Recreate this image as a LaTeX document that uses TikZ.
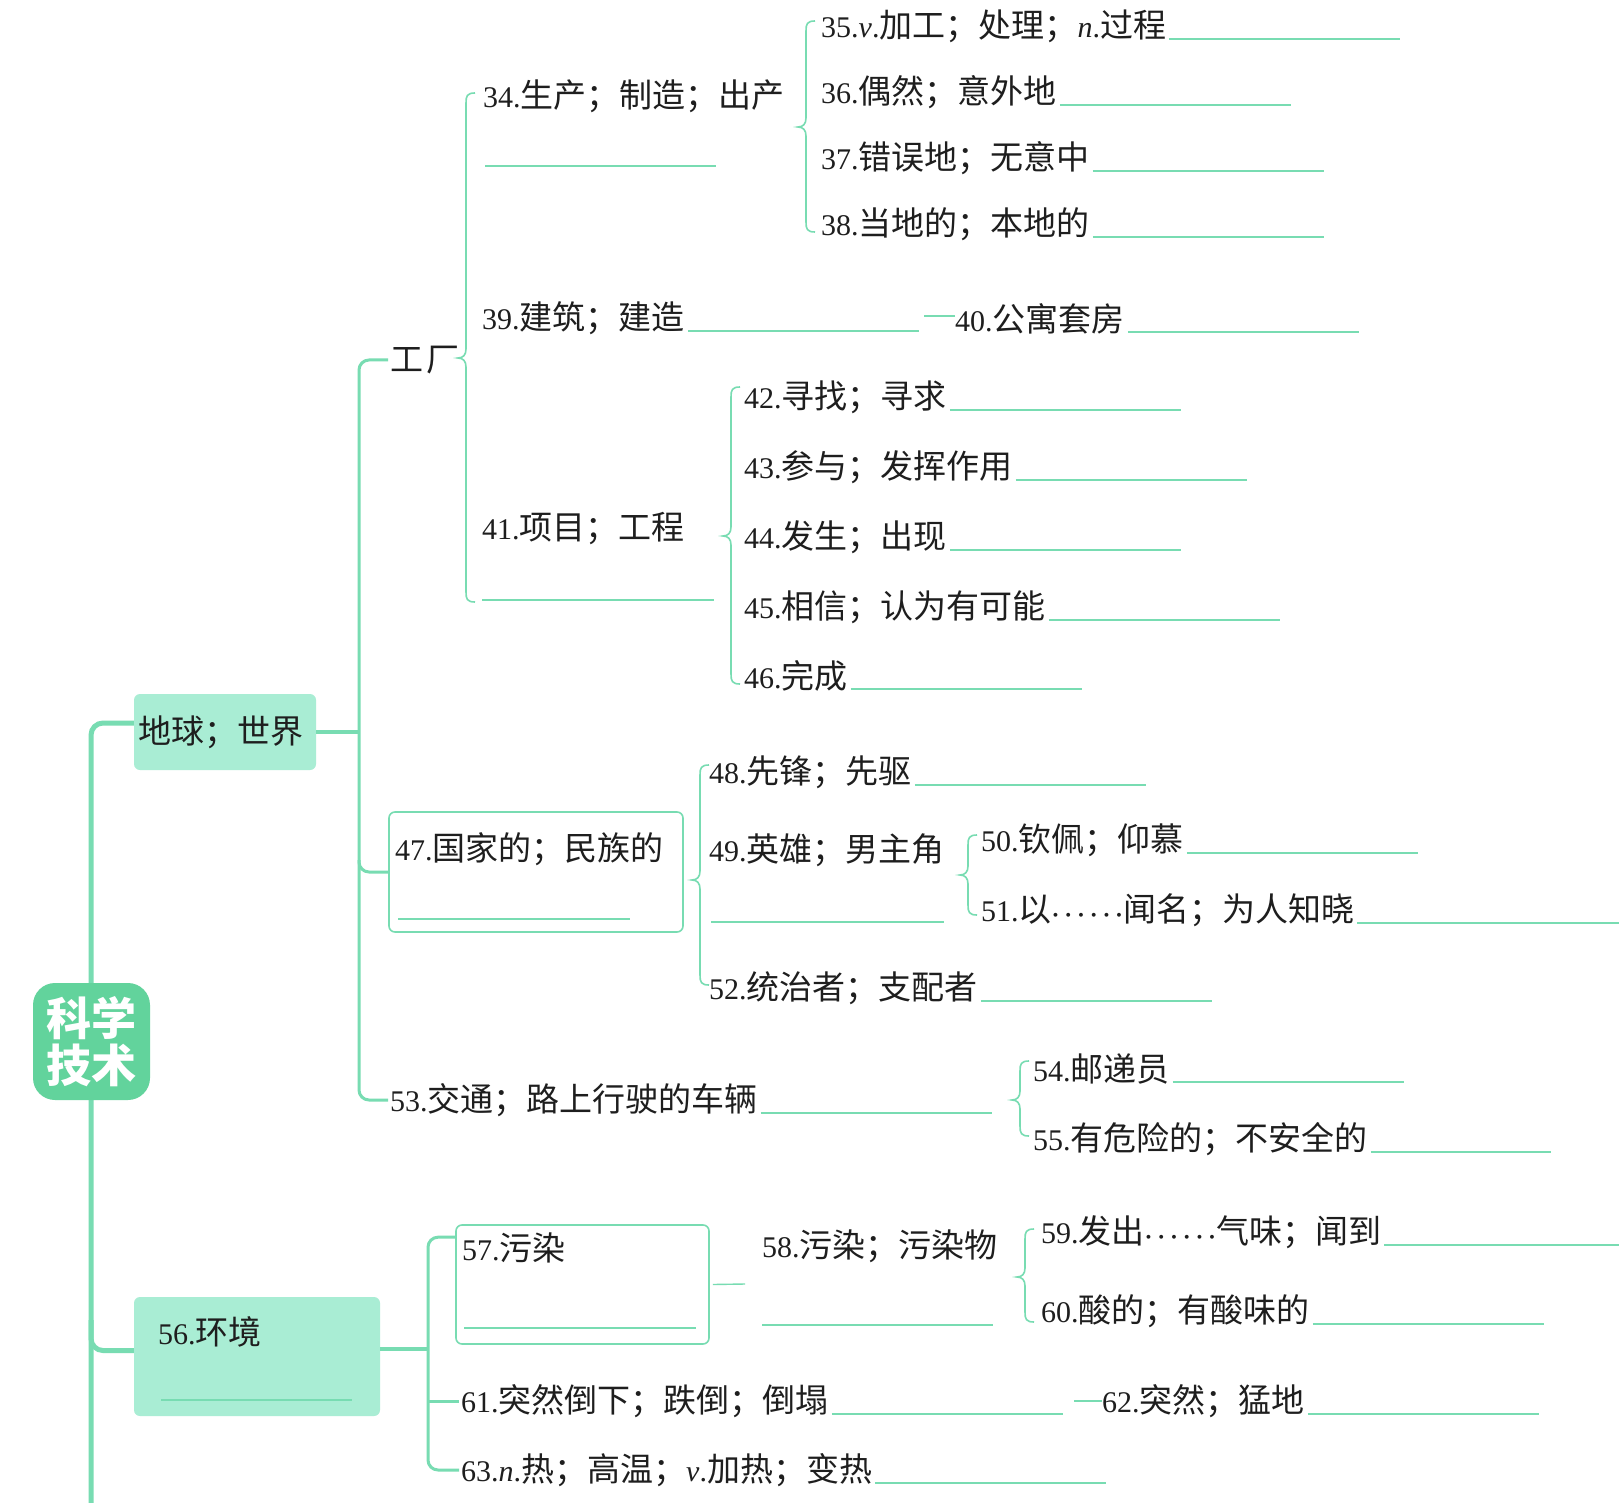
\documentclass[tikz,border=0pt]{standalone}
\usepackage{fontspec}
\setmainfont{Liberation Serif}
\newfontfamily\cjk{Noto Sans CJK SC}[Scale=1.10]
\usetikzlibrary{calc}
\definecolor{lg}{HTML}{78DCB2}
\definecolor{rootg}{HTML}{62D39C}
\definecolor{boxg}{HTML}{A9EDD4}
\definecolor{ink}{HTML}{1E1E1E}
\newcommand\zh[1]{{\cjk #1}}
\newcommand\dotsix{{\boldmath$\cdots\cdots$}}
\newcommand\brc[4]{%
  \draw[bracel] ({#1+9},#2) .. controls ({#1+1},#2) and (#1,{#2+3}) .. (#1,{#2+10})
   -- (#1,{#3-9}) .. controls (#1,{#3-3}) and ({#1-3},#3) .. ({#1-8},#3)
   .. controls ({#1-3},#3) and (#1,{#3+3}) .. (#1,{#3+9})
   -- (#1,{#4-10}) .. controls (#1,{#4-3}) and ({#1+1},#4) .. ({#1+9},#4);}
\newcommand\ulafter[2]{\draw[ul] ($(#1.east)+(3,13)$) -- ++(#2,0);}
\tikzset{
  lbl/.style={anchor=west, inner sep=0pt, text=ink, font=\fontsize{30}{34}\selectfont},
  ul/.style={draw=lg, line width=1.4pt},
  bracel/.style={draw=lg, line width=1.6pt},
  trunk/.style={draw=lg, line width=5pt},
  branch/.style={draw=lg, line width=4pt},
  vline/.style={draw=lg, line width=3pt},
  thinl/.style={draw=lg, line width=1.4pt},
  frame/.style={draw=lg, line width=1.6pt, rounded corners=6pt, fill=white, inner sep=0pt},
  fbox/.style={fill=boxg, rounded corners=6pt, inner sep=0pt},
}
\begin{document}
\begin{tikzpicture}[x=1pt, y=-1pt]
\useasboundingbox[fill=white] (0,0) rectangle (1619,1503);
\coordinate (re) at (1619,0);

% ---------- boxes ----------
\node[fbox, minimum width=182pt, minimum height=76pt] (bEarth) at (225,732) {};
\node[lbl] (tEarth) at (138,732) {\zh{地球；世界}};
\node[fbox, minimum width=246pt, minimum height=119pt] (b56) at (257,1356.5) {};
\node[lbl] (t56) at (158,1332) {56.\zh{环境}};
\draw[ul] (161,1400) -- (352,1400);

% ---------- trunk ----------
\draw[trunk, rounded corners=12pt] ([yshift=9pt]bEarth.west) -| (91,1510);
\draw[trunk, rounded corners=12pt] (91,1320) |- ([yshift=6pt]b56.west);
\node[fill=rootg, rounded corners=22pt, minimum width=117pt, minimum height=117pt, inner sep=0pt,
      text=white, align=center, font=\fontsize{41}{47}\selectfont\bfseries] (root) at (91.5,1041.5)
      {\zh{\bfseries 科学}\\\zh{\bfseries 技术}};

% ---------- level 2 (earth) ----------
\node[lbl] (tFac) at (390,360) {\zh{工\hspace{3pt}厂}};
\node[lbl] (t53) at (390,1100) {53.\zh{交通；路上行驶的车辆}};
\node[frame, minimum width=294pt, minimum height=120pt] (b47) at (536,872) {};
\node[lbl] (t47) at (395,849) {47.\zh{国家的；民族的}};
\draw[ul] (398,919) -- (630,919);

\draw[branch] (bEarth.east) -- (359,732);
\draw[vline, rounded corners=10pt] ([xshift=-2pt]tFac.west) -| (359,1050) |- ([xshift=-2pt]t53.west);
\draw[vline, rounded corners=10pt] (359,860) |- (b47.west);

% ---------- factory ----------
\brc{466}{93}{358}{602}
\node[lbl] (t34) at (483,96) {34.\zh{生产；制造；出产}};
\draw[ul] (485,166) -- (716,166);
\node[lbl] (t39) at (482,318) {39.\zh{建筑；建造}};
\ulafter{t39}{231}
\node[lbl] (t40) at (955,319) {40.\zh{公寓套房}};
\ulafter{t40}{231}
\draw[thinl] ([yshift=3pt]t40.west) -- ++(-31,0);
\node[lbl] (t41) at (482,529) {41.\zh{项目；工程}};
\draw[ul] (482,600) -- (714,600);

\brc{806}{21}{127}{232}
\node[lbl] (t35) at (821,26) {35.\textit{v}.\zh{加工；处理；}\textit{n}.\zh{过程}};
\ulafter{t35}{231}
\node[lbl] (t36) at (821,92) {36.\zh{偶然；意外地}};
\ulafter{t36}{231}
\node[lbl] (t37) at (821,158) {37.\zh{错误地；无意中}};
\ulafter{t37}{231}
\node[lbl] (t38) at (821,224) {38.\zh{当地的；本地的}};
\ulafter{t38}{231}

\brc{731}{387}{536}{684}
\node[lbl] (t42) at (744,397) {42.\zh{寻找；寻求}};
\ulafter{t42}{231}
\node[lbl] (t43) at (744,467) {43.\zh{参与；发挥作用}};
\ulafter{t43}{231}
\node[lbl] (t44) at (744,537) {44.\zh{发生；出现}};
\ulafter{t44}{231}
\node[lbl] (t45) at (744,607) {45.\zh{相信；认为有可能}};
\ulafter{t45}{231}
\node[lbl] (t46) at (744,676) {46.\zh{完成}};
\ulafter{t46}{231}

% ---------- 47 ----------
\brc{700}{765}{880}{985}
\node[lbl] (t48) at (709,772) {48.\zh{先锋；先驱}};
\ulafter{t48}{231}
\node[lbl] (t49) at (709,850) {49.\zh{英雄；男主角}};
\draw[ul] (711,922) -- (944,922);
\node[lbl] (t52) at (709,988) {52.\zh{统治者；支配者}};
\ulafter{t52}{231}
\brc{968}{835}{875}{915}
\node[lbl] (t50) at (981,840) {50.\zh{钦佩；仰慕}};
\ulafter{t50}{231}
\node[lbl] (t51) at (981,910) {51.\zh{以}\dotsix\zh{闻名；为人知晓}};
\draw[ul] ($(t51.east)+(3,13)$) -- ($(t51.east -| re)+(0,13)$);

% ---------- 53 ----------
\ulafter{t53}{231}
\brc{1020}{1061}{1100}{1136}
\node[lbl] (t54) at (1033,1069) {54.\zh{邮递员}};
\ulafter{t54}{231}
\node[lbl] (t55) at (1033,1139) {55.\zh{有危险的；不安全的}};
\ulafter{t55}{180}

% ---------- 56 environment ----------
\node[frame, minimum width=253pt, minimum height=119pt] (b57) at (582.5,1284.5) {};
\node[lbl] (t57) at (462,1248) {57.\zh{污染}};
\draw[ul] (464,1328) -- (696,1328);
\coordinate (c57) at (745,1284);
\draw[thinl] (b57.east) ++(3,0) -- (c57);

\draw[branch] ([yshift=8pt]b56.east) -- (428,1348.5);
\node[lbl] (t61) at (461,1401) {61.\zh{突然倒下；跌倒；倒塌}};
\node[lbl] (t63) at (461,1470) {63.\textit{n}.\zh{热；高温；}\textit{v}.\zh{加热；变热}};
\draw[vline, rounded corners=10pt] ([yshift=-13pt]b57.north west) -| (428,1430) |- ([xshift=-2pt]t63.west);
\draw[vline] (428,1401) -- ([xshift=-2pt]t61.west);
\ulafter{t61}{231}
\node[lbl] (t62) at (1102,1401) {62.\zh{突然；猛地}};
\draw[thinl] (t62.west) -- ++(-28,0);
\ulafter{t62}{231}
\ulafter{t63}{231}

\node[lbl] (t58) at (762,1246) {58.\zh{污染；污染物}};
\draw[ul] (762,1325) -- (993,1325);
\brc{1025}{1229}{1277}{1322}
\node[lbl] (t59) at (1041,1232) {59.\zh{发出}\dotsix\zh{气味；闻到}};
\draw[ul] ($(t59.east)+(3,13)$) -- ($(t59.east -| re)+(0,13)$);
\node[lbl] (t60) at (1041,1311) {60.\zh{酸的；有酸味的}};
\ulafter{t60}{231}
\end{tikzpicture}
\end{document}
